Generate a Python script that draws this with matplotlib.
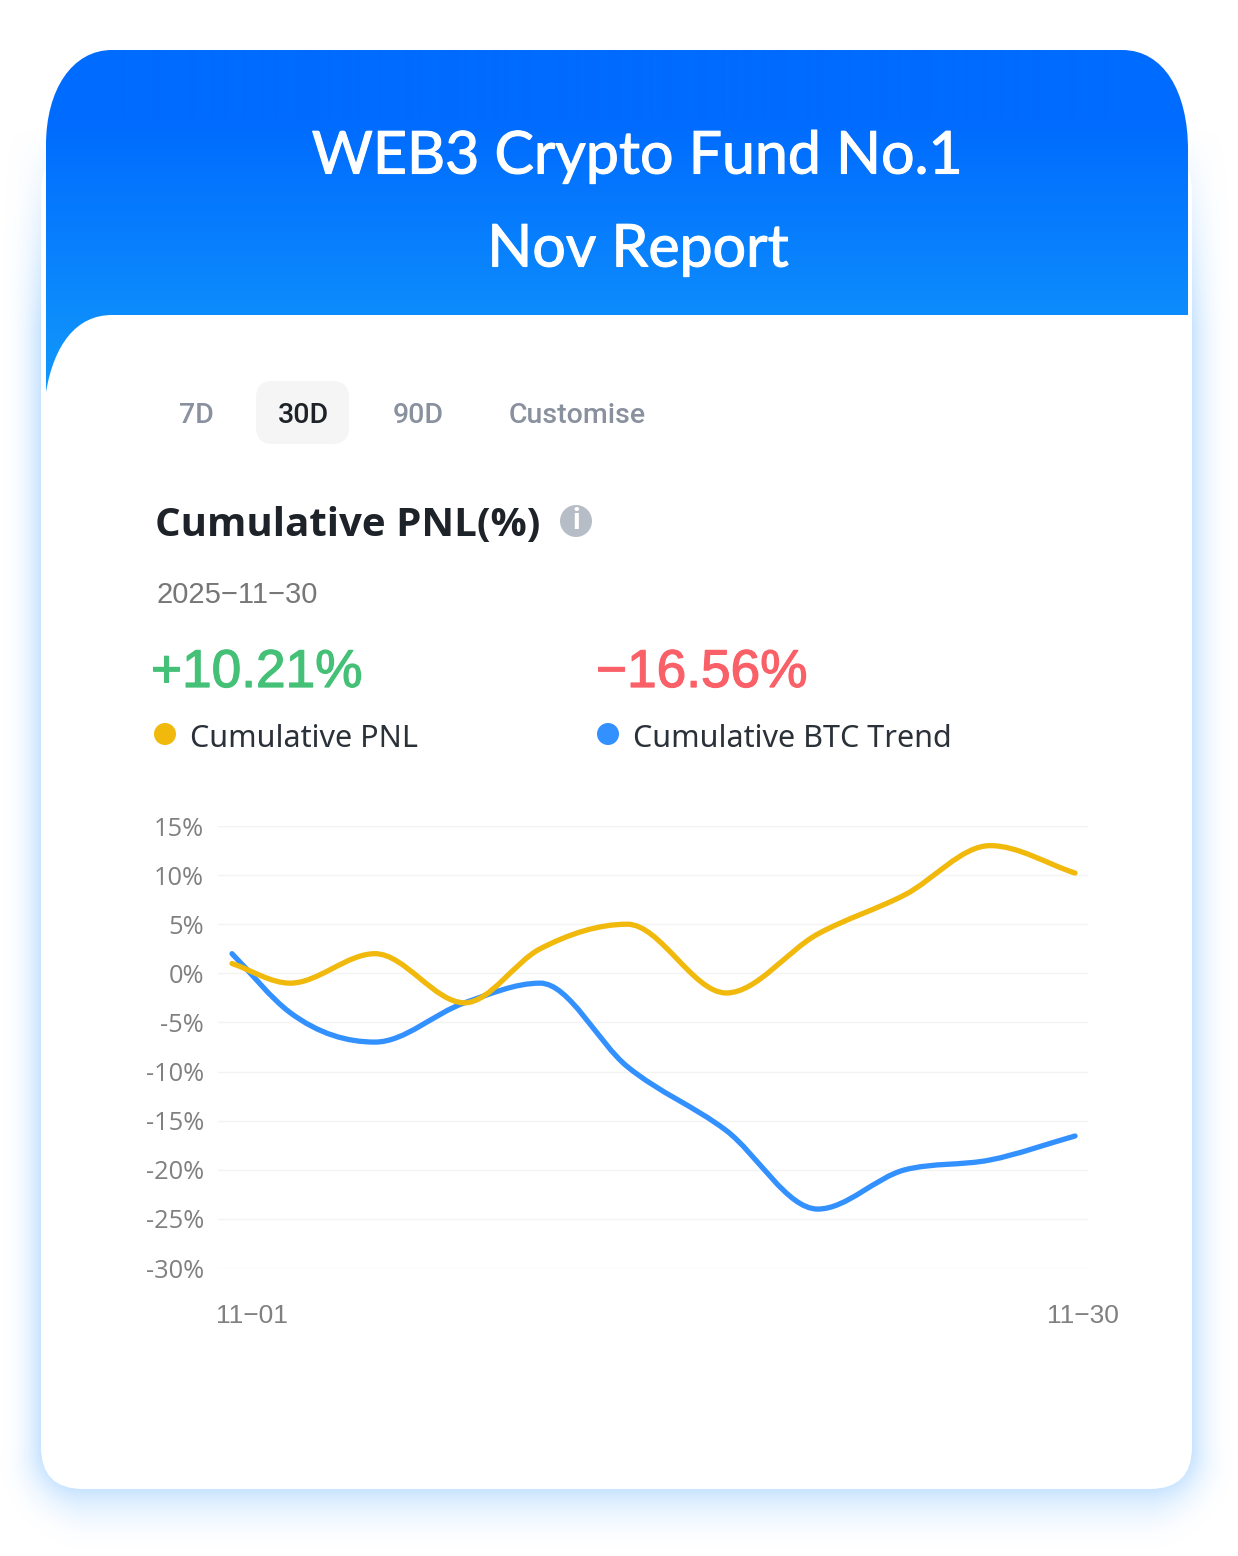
import matplotlib
matplotlib.use('Agg')
import matplotlib.pyplot as plt
import numpy as np
import matplotlib.patheffects as pe
from matplotlib.patches import PathPatch, FancyBboxPatch, Circle
from matplotlib.path import Path
from matplotlib.colors import to_rgb

# values
days = [1, 3, 5.92, 9, 11.6, 14.6, 18, 21.15, 24.15, 27.08, 30]
pnl = [1, -1, 2, -3, 2.5, 5, -2, 4, 8, 13, 10.21]
btc = [2, -4, -7, -3, -1, -9.5, -16, -24, -20, -19, -16.56]

y_ticks = [15, 10, 5, 0, -5, -10, -15, -20, -25, -30]
y_labels = ['15%', '10%', '5%', '0%', '-5%', '-10%', '-15%', '-20%', '-25%', '-30%']
x_labels = ['11\u221201', '11\u221230']
tabs = ['7D', '30D', '90D', 'Customise']

W, H = 1238, 1556
YELLOW = '#f0b90b'
BLUE = '#3390ff'


def smooth_path(x, y):
    # monotone cubic through the read values, drawn as bezier segments
    x = np.array(x, dtype=float)
    y = np.array(y, dtype=float)
    h = np.diff(x)
    d = np.diff(y) / h
    m = np.zeros(len(x))
    for i in range(1, len(x) - 1):
        if d[i - 1] * d[i] > 0:
            s = (h[i] * d[i - 1] + h[i - 1] * d[i]) / (h[i] + h[i - 1])
            lim = 2.2 * min(abs(d[i - 1]), abs(d[i]))
            m[i] = np.sign(s) * min(abs(s), lim)
    m[0] = d[0]
    m[-1] = d[-1]
    verts = [(x[0], y[0])]
    codes = [Path.MOVETO]
    for i in range(len(h)):
        verts.append((x[i] + h[i] / 3, y[i] + m[i] * h[i] / 3))
        verts.append((x[i + 1] - h[i] / 3, y[i + 1] - m[i + 1] * h[i] / 3))
        verts.append((x[i + 1], y[i + 1]))
        codes += [Path.CURVE4] * 3
    return Path(verts, codes)


fig = plt.figure(figsize=(W / 100, H / 100), dpi=100, facecolor='white')
bg = fig.add_axes([0, 0, 1, 1])
bg.set_xlim(0, W)
bg.set_ylim(H, 0)
bg.axis('off')

# soft blue shadow round the card, measured from the rounded outline
xx, yy = np.meshgrid(np.arange(W) + 0.5, np.arange(H) + 0.5)
rad = 42
qx = np.maximum(np.maximum(41 + rad - xx, xx - 1192 + rad), 0)
qy = np.maximum(yy - 1489 + rad, 0)
dist = np.sqrt(qx ** 2 + qy ** 2) - rad
reach = 42 + 26 * qy / (qx + qy + 1e-6)
glow = np.clip(1 - dist / reach, 0, 1) ** 2.4
glow = glow * np.clip((yy - 130) / 200, 0, 1)
shadow = np.zeros((H, W, 4))
shadow[..., :3] = to_rgb('#c8e4ff')
shadow[..., 3] = glow
bg.imshow(shadow, extent=(0, W, H, 0), aspect='auto', zorder=1)

# white card
card = FancyBboxPatch((41, 150), 1151, 1339, boxstyle='round,pad=0,rounding_size=42',
                      fc='white', ec='none', zorder=2)
bg.add_patch(card)

# blue header with gradient
head = Path([(46, 145), (46, 90), (72, 50), (112, 50),
             (1122, 50), (1164, 50), (1188, 92), (1188, 150),
             (1188, 315), (112, 315), (76, 315), (54, 345), (46, 392), (46, 145)],
            [Path.MOVETO, Path.CURVE4, Path.CURVE4, Path.CURVE4,
             Path.LINETO, Path.CURVE4, Path.CURVE4, Path.CURVE4,
             Path.LINETO, Path.LINETO, Path.CURVE4, Path.CURVE4, Path.CURVE4, Path.CLOSEPOLY])
top_c = np.array(to_rgb('#006bff'))
bot_c = np.array(to_rgb('#1299fb'))
ramp = np.clip((np.linspace(50, 392, 342) - 120) / 272, 0, 1)[:, None, None]
grad = top_c[None, None, :] * (1 - ramp) + bot_c[None, None, :] * ramp
im = bg.imshow(grad, extent=(40, 1195, 392, 50), aspect='auto', zorder=3)
im.set_clip_path(PathPatch(head, transform=bg.transData))
bg.set_xlim(0, W)
bg.set_ylim(H, 0)

thick = [pe.withStroke(linewidth=0.8, foreground='white')]
bg.text(637, 157, 'WEB3 Crypto Fund No.1', color='white', fontsize=42.5, family='Lato',
        ha='center', va='center', zorder=5, path_effects=thick)
bg.text(638, 250, 'Nov Report', color='white', fontsize=42.5, family='Lato',
        ha='center', va='center', zorder=5, path_effects=thick)

# range tabs
bg.add_patch(FancyBboxPatch((256, 381), 93, 63, boxstyle='round,pad=0,rounding_size=17',
                            fc='#f5f5f5', ec='none', zorder=3))
tab_x = [196, 303.5, 418.5, 577.5]
for t, tx in zip(tabs, tab_x):
    bg.text(tx, 415, t, fontsize=20.5, family='Roboto', weight='medium',
            color='#1e2329' if t == '30D' else '#8a919e', ha='center', va='center', zorder=5)

# heading block
bg.text(155, 526, 'Cumulative PNL(%)', fontsize=29, family='Open Sans', weight='bold',
        color='#1e2329', ha='left', va='center', zorder=5)
bg.add_patch(Circle((576, 521), 16, fc='#b7bdc6', ec='none', zorder=5))
bg.text(576, 521, 'i', fontsize=21, family='Roboto', weight='bold', color='white',
        ha='center', va='center', zorder=6)
bg.text(157, 595, '2025\u221211\u221230', fontsize=21, family='Liberation Sans',
        color='#777777', ha='left', va='center', zorder=5)
green_thick = [pe.withStroke(linewidth=0.9, foreground='#45c077')]
red_thick = [pe.withStroke(linewidth=0.9, foreground='#fa6068')]
bg.text(151, 673, '+10.21%', fontsize=38.3, family='Liberation Sans', color='#45c077',
        ha='left', va='center', zorder=5, path_effects=green_thick)
bg.text(596, 673, '\u221216.56%', fontsize=38.3, family='Liberation Sans', color='#fa6068',
        ha='left', va='center', zorder=5, path_effects=red_thick)
bg.add_patch(Circle((165, 734), 11, fc=YELLOW, ec='none', zorder=5))
bg.add_patch(Circle((608, 734), 11, fc=BLUE, ec='none', zorder=5))
bg.text(190, 739, 'Cumulative PNL', fontsize=22, family='Noto Sans', color='#2b3139',
        ha='left', va='center', zorder=5)
bg.text(633, 739, 'Cumulative BTC Trend', fontsize=22, family='Noto Sans', color='#2b3139',
        ha='left', va='center', zorder=5)

# line chart, axes placed on the pixel box of the gridlines
left, right, top, bottom = 218, 1088, 826, 1268
ax = fig.add_axes([left / W, 1 - bottom / H, (right - left) / W, (bottom - top) / H])
ax.patch.set_alpha(0)
per_day = (1075 - 232) / 29
ax.set_xlim(1 - (232 - left) / per_day, 30 + (right - 1075) / per_day)
ax.set_ylim(-30, 15)
for s in ax.spines.values():
    s.set_visible(False)
ax.set_yticks(y_ticks)
ax.set_yticklabels(y_labels, family='Open Sans', fontsize=18.3, color='#808080')
ax.set_xticks([1.69, 30.27])
ax.set_xticklabels(x_labels, family='Liberation Sans', fontsize=19, color='#808080')
ax.tick_params(axis='both', length=0)
ax.tick_params(axis='y', pad=10)
ax.tick_params(axis='x', pad=26)
ax.grid(axis='y', color='#f3f3f3', lw=1)
ax.set_axisbelow(True)
ax.add_patch(PathPatch(smooth_path(days, btc), fc='none', ec=BLUE, lw=3.8, capstyle='round', zorder=3))
ax.add_patch(PathPatch(smooth_path(days, pnl), fc='none', ec=YELLOW, lw=3.8, capstyle='round', zorder=4))

fig.savefig('out.png', dpi=100)
